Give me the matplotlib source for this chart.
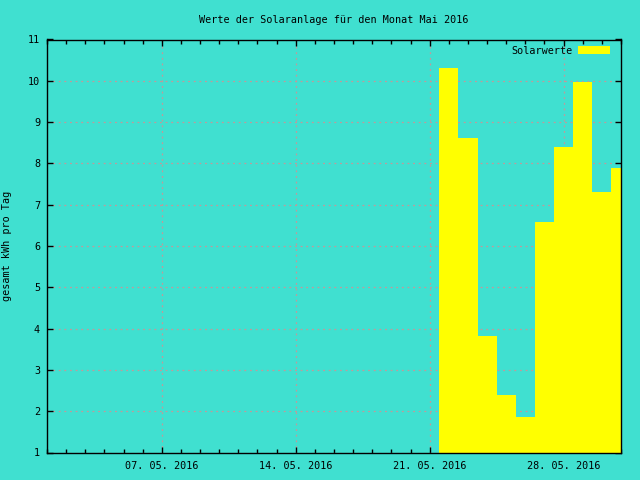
import matplotlib
matplotlib.use("Agg")
import matplotlib.pyplot as plt
import matplotlib.dates as mdates
from matplotlib.ticker import MultipleLocator
import datetime as dt

dates = ["2016-05-22", "2016-05-23", "2016-05-24", "2016-05-25", "2016-05-26",
         "2016-05-27", "2016-05-28", "2016-05-29", "2016-05-30", "2016-05-31"]
values = [10.32, 8.62, 3.81, 2.39, 1.85, 6.59, 8.40, 9.96, 7.30, 7.89]
major_ticks = ["2016-05-07", "2016-05-14", "2016-05-21", "2016-05-28"]

title = "Werte der Solaranlage für den Monat Mai 2016"
ylabel = "gesamt kWh pro Tag"
series_name = "Solarwerte"

bg = "#40E0D0"
plt.rcParams['font.family'] = ['DejaVu Sans Mono', 'DejaVu Sans']
fs = 7.3
plt.rcParams['font.size'] = fs

fig = plt.figure(figsize=(6.4, 4.8), dpi=100, facecolor=bg)
ax = fig.add_axes([47/640, 1 - 452.5/480, (621-47)/640, (452.5-39.5)/480])
ax.set_facecolor(bg)

x = [mdates.date2num(dt.datetime.fromisoformat(d)) for d in dates]
ax.bar(x, [v - 1 for v in values], bottom=1, width=1.0, color="#FFFF00",
       edgecolor="none", zorder=2, label=series_name)

ax.set_xlim(mdates.date2num(dt.datetime(2016, 5, 1)), mdates.date2num(dt.datetime(2016, 5, 31)))
ax.set_ylim(1, 11)
ax.set_xticks([mdates.date2num(dt.datetime.fromisoformat(d)) for d in major_ticks])
ax.xaxis.set_major_formatter(mdates.DateFormatter("%d. %m. %Y"))
ax.xaxis.set_minor_locator(MultipleLocator(1))
ax.yaxis.set_major_locator(MultipleLocator(1))

ax.tick_params(axis='both', which='major', direction='in', length=4, width=1,
               top=True, right=True, labelsize=fs)
ax.tick_params(axis='x', which='minor', direction='in', length=3, width=1, top=True)
ax.tick_params(axis='y', which='major', pad=5)
ax.tick_params(axis='x', which='major', pad=6)
for s in ax.spines.values():
    s.set_linewidth(1.0)
    s.set_zorder(5)

ax.grid(True, which='major', color="#c09a9a", linestyle=(0, (1.5, 3)), linewidth=0.9, zorder=1)
ax.set_axisbelow(True)

ax.set_title(title, fontsize=fs, pad=12)
ax.set_ylabel(ylabel, fontsize=fs)
ax.yaxis.set_label_coords((12 - 47) / 574, 0.5)

leg = ax.legend(loc='upper right', frameon=False, fontsize=fs, markerfirst=False,
                handlelength=3.2, handleheight=0.75, borderaxespad=0.0,
                handletextpad=0.5, bbox_to_anchor=(1 - 7/574, 1 - 2/413))

fig.savefig("out.png", dpi=100, facecolor=bg)
